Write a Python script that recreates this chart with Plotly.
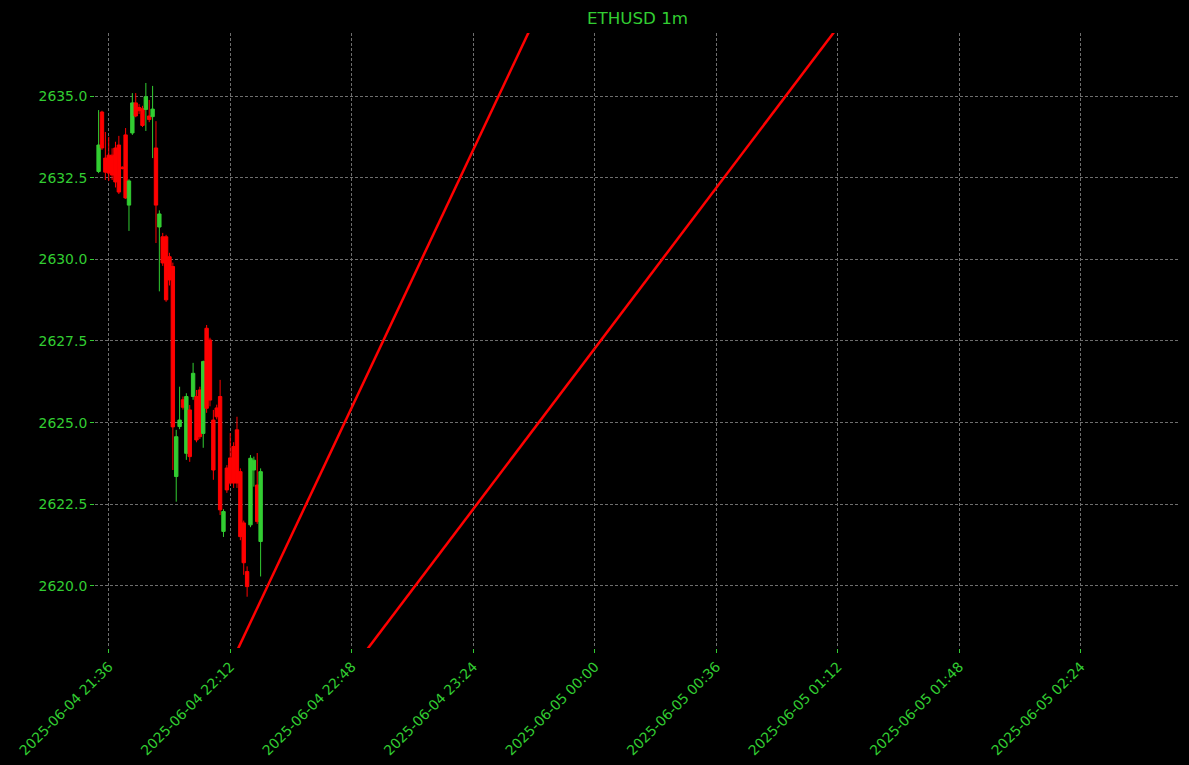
import pandas as pd
import plotly.graph_objects as go

# ---- data ----
start_time = "2025-06-04 21:33"
open_ = [2632.69, 2634.51, 2633.10, 2633.19, 2633.19, 2633.41, 2633.50, 2632.82, 2633.81, 2631.66,
         2633.87, 2634.79, 2634.65, 2634.61, 2634.59, 2634.39, 2634.37, 2633.41, 2630.99, 2630.69,
         2630.69, 2630.08, 2629.78, 2623.35, 2624.88, 2625.70, 2624.06, 2625.39, 2625.80, 2625.80,
         2626.00, 2624.67, 2627.89, 2627.53, 2625.08, 2625.45, 2625.80, 2621.67, 2623.61, 2623.92,
         2624.27, 2624.78, 2623.50, 2621.93, 2620.44, 2621.87, 2623.55, 2623.09, 2621.36]
high_ = [2634.57, 2634.55, 2633.90, 2633.75, 2633.40, 2633.60, 2633.78, 2632.85, 2634.02, 2632.45,
         2635.09, 2635.09, 2634.75, 2634.70, 2635.40, 2634.88, 2635.31, 2634.23, 2631.50, 2630.81,
         2630.75, 2630.20, 2629.90, 2624.78, 2626.10, 2625.80, 2625.90, 2625.54, 2626.83, 2626.00,
         2626.10, 2626.90, 2627.99, 2627.60, 2625.39, 2625.55, 2626.31, 2622.35, 2623.70, 2624.68,
         2624.40, 2625.18, 2623.60, 2622.00, 2620.60, 2624.01, 2623.96, 2624.07, 2623.60]
low_ = [2632.64, 2633.35, 2632.43, 2632.40, 2632.43, 2632.20, 2632.00, 2632.75, 2631.85, 2630.87,
        2633.81, 2634.35, 2634.45, 2634.05, 2633.93, 2634.20, 2633.10, 2630.50, 2629.02, 2629.80,
        2628.70, 2629.20, 2623.55, 2622.58, 2624.80, 2625.40, 2623.86, 2623.80, 2625.70, 2624.40,
        2624.50, 2624.23, 2625.30, 2625.50, 2623.25, 2625.10, 2622.17, 2621.50, 2622.85, 2623.10,
        2623.00, 2623.00, 2621.40, 2620.34, 2619.67, 2621.80, 2623.04, 2621.90, 2620.29]
close_ = [2633.50, 2633.41, 2632.67, 2632.64, 2632.58, 2632.37, 2632.06, 2632.78, 2631.88, 2632.40,
          2634.79, 2634.39, 2634.55, 2634.10, 2634.98, 2634.28, 2634.60, 2631.66, 2631.39, 2629.89,
          2628.76, 2629.37, 2624.87, 2624.57, 2625.08, 2625.47, 2625.80, 2623.96, 2626.51, 2624.47,
          2624.57, 2626.87, 2625.44, 2625.69, 2623.55, 2625.18, 2622.33, 2622.28, 2622.94, 2623.15,
          2623.15, 2623.15, 2621.51, 2620.71, 2619.98, 2623.91, 2623.85, 2621.97, 2623.50]

# trend lines (two points each)
line1_time = ["2025-06-04 22:14", "2025-06-04 23:41"]
line1_price = [2618.01, 2637.08]
line2_time = ["2025-06-04 22:52", "2025-06-05 01:11"]
line2_price = [2617.98, 2636.97]

x_ticks = ["2025-06-04 21:36", "2025-06-04 22:12", "2025-06-04 22:48", "2025-06-04 23:24",
           "2025-06-05 00:00", "2025-06-05 00:36", "2025-06-05 01:12", "2025-06-05 01:48",
           "2025-06-05 02:24"]
y_ticks = [2620.0, 2622.5, 2625.0, 2627.5, 2630.0, 2632.5, 2635.0]
x_range = ["2025-06-04 21:31:56", "2025-06-05 02:53:24"]
y_range = [2618.10, 2636.93]

times = pd.date_range(start_time, periods=len(open_), freq="1min")

GREEN = "#32cd32"
RED = "#ff0000"
GRID = "#6e6e6e"

fig = go.Figure()
fig.add_trace(go.Candlestick(
    x=times, open=open_, high=high_, low=low_, close=close_,
    increasing=dict(line=dict(color=GREEN, width=1), fillcolor=GREEN),
    decreasing=dict(line=dict(color=RED, width=1), fillcolor=RED),
    whiskerwidth=0, showlegend=False,
))
fig.add_trace(go.Scatter(x=pd.to_datetime(line1_time), y=line1_price, mode="lines",
                         line=dict(color=RED, width=2.5), showlegend=False))
fig.add_trace(go.Scatter(x=pd.to_datetime(line2_time), y=line2_price, mode="lines",
                         line=dict(color=RED, width=2.5), showlegend=False))

fig.update_layout(
    width=1189, height=765,
    paper_bgcolor="#000000", plot_bgcolor="#000000",
    margin=dict(l=95, r=9, t=33, b=117, autoexpand=False),
    boxgap=0, boxgroupgap=0.0,
    font=dict(family="DejaVu Sans", color=GREEN, size=13.9),
    title=dict(text="ETHUSD 1m", x=0.5, xref="paper", xanchor="center",
               y=1 - 18 / 765, yanchor="middle",
               font=dict(family="DejaVu Sans", size=16.7, color=GREEN)),
    showlegend=False,
)
fig.update_xaxes(
    type="date", range=x_range, rangeslider=dict(visible=False),
    tickvals=pd.to_datetime(x_ticks), tickformat="%Y-%m-%d %H:%M", tickangle=-45,
    showgrid=True, gridcolor=GRID, gridwidth=0.6, griddash="3px,2px",
    zeroline=False, showline=False, ticks="outside", ticklen=4, tickcolor=GREEN,
    tickfont=dict(color=GREEN, size=13.9, family="DejaVu Sans"), automargin=False,
)
fig.update_yaxes(
    range=y_range, tickvals=y_ticks, tickformat=".1f",
    showgrid=True, gridcolor=GRID, gridwidth=0.6, griddash="3px,2px",
    zeroline=False, showline=False, ticks="outside", ticklen=4, tickcolor=GREEN,
    tickfont=dict(color=GREEN, size=13.9, family="DejaVu Sans"), automargin=False,
)

fig.write_html("out.html")
